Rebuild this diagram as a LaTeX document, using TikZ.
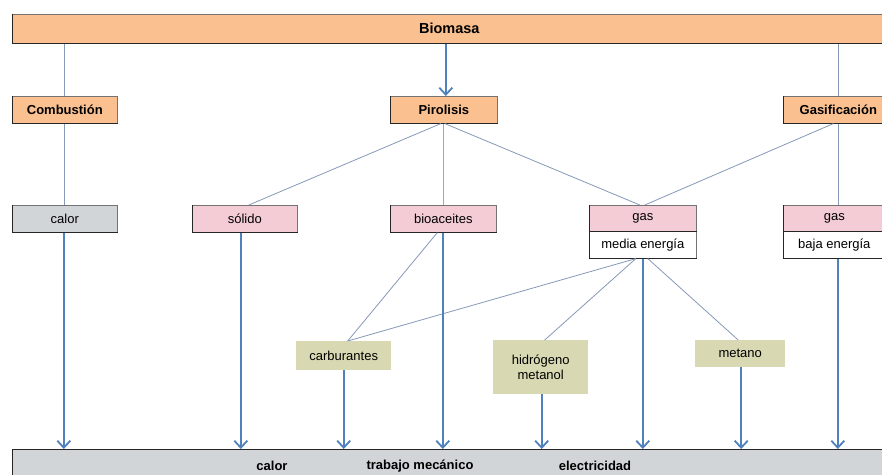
\documentclass[tikz,border=0pt]{standalone}
\usepackage{fontspec}
\setmainfont{Liberation Sans}
\usetikzlibrary{arrows.meta,calc}
\definecolor{orangefill}{RGB}{250,192,144}
\definecolor{pinkfill}{RGB}{243,204,214}
\definecolor{grayfill}{RGB}{210,213,216}
\definecolor{greenfill}{RGB}{216,216,178}
\definecolor{arrowblue}{RGB}{79,129,189}
\definecolor{connline}{RGB}{135,152,185}
\begin{document}
\begin{tikzpicture}[x=1pt,y=-1pt,
  font=\fontsize{13}{15}\selectfont,
  box/.style={draw=black!55, line width=0.6pt, inner sep=0pt, anchor=north west},
  edge/.style={draw=black!85, line width=1pt},
  gbox/.style={fill=greenfill, inner sep=0pt, anchor=north west, align=center},
  conn/.style={draw=connline, line width=0.8pt},
  grayconn/.style={draw=black!35, line width=0.8pt},
  arr/.style={draw=arrowblue, line width=1.8pt, -{Straight Barb[length=7pt,width=13pt]}},
  bold/.style={font=\fontsize{13}{15}\selectfont\bfseries}]
\useasboundingbox (0,0) rectangle (882,474);
\fill[white] (0,0) rectangle (882,474);

% top bar and processes
\node[box,fill=orangefill,minimum width=874pt,minimum height=29pt,font=\fontsize{14.5}{16}\selectfont\bfseries] (bio) at (12,14) {Biomasa};
\node[box,fill=orangefill,minimum width=105pt,minimum height=27pt,bold] (comb) at (12,96) {Combustión};
\node[box,fill=orangefill,minimum width=107pt,minimum height=27pt,bold] (pir) at (390,96) {Pirolisis};
\node[box,fill=orangefill,minimum width=110pt,minimum height=27pt,bold] (gasif) at (783,96) {Gasificación};

% products
\node[box,fill=grayfill,minimum width=105pt,minimum height=27pt] (calor) at (12,205) {calor};
\node[box,fill=pinkfill,minimum width=105pt,minimum height=27pt] (sol) at (192,205) {sólido};
\node[box,fill=pinkfill,minimum width=106pt,minimum height=27pt] (bioac) at (390,205) {bioaceites};
\node[box,fill=pinkfill,minimum width=107pt,minimum height=26pt] (gasm) at (589,205) {gas};
\node[box,fill=white,minimum width=107pt,minimum height=27pt] (gasmb) at (589,231) {media energía};
\node[box,fill=pinkfill,minimum width=102pt,minimum height=26pt] (gasb) at (783,205) {gas};
\node[box,fill=white,minimum width=102pt,minimum height=27pt] (gasbb) at (783,231) {baja energía};

% darker left and bottom edges of the boxes
\foreach \n in {bio,comb,pir,gasif,calor,sol,bioac,gasm,gasmb,gasb,gasbb}
  \draw[edge] (\n.north west) -- (\n.south west) -- (\n.south east);

% secondary products
\node[gbox,minimum width=95pt,minimum height=29pt] (carb) at (296,341) {carburantes};
\node[gbox,minimum width=95pt,minimum height=54pt] (hidro) at (493,340) {hidrógeno\\metanol};
\node[gbox,minimum width=90pt,minimum height=27pt] (meta) at (695,340) {metano};

% bottom bar
\node[box,fill=grayfill,minimum width=880pt,minimum height=35pt] (bottom) at (12,449) {};
\draw[edge] (bottom.south west) -- (bottom.north west) -- (bottom.north east);
\node[bold] (t1) at (272,466) {calor};
\node[bold] (t2) at (420,466) {trabajo mecánico};
\node[bold] (t3) at (595,466) {electricidad};

% connectors from Biomasa
\draw[conn] (bio.south -| comb.north) -- (comb.north);
\draw[arr] ([xshift=2pt]bio.south -| pir.north) -- ([xshift=2pt]pir.north);
\draw[conn] (bio.south -| gasif.north) -- (gasif.north);

% process to products
\draw[conn] (comb.south) -- (calor.north);
\draw[conn] ([xshift=-3pt]pir.south) -- ([xshift=4pt]sol.north);
\draw[grayconn] (pir.south) -- (pir.south |- bioac.north);
\draw[conn] ([xshift=1pt]pir.south) -- ([xshift=-3pt]gasm.north);
\draw[conn] ([xshift=-5pt]gasif.south) -- ([xshift=2pt]gasm.north);
\draw[conn] (gasif.south) -- (gasif.south |- gasb.north);

% to secondary products
\draw[conn] ([xshift=-6pt]bioac.south) -- ([xshift=4pt]carb.north);
\draw[conn] ([xshift=-7pt]gasmb.south) -- ([xshift=4pt]carb.north);
\draw[conn] ([xshift=-7pt]gasmb.south) -- ([xshift=4pt]hidro.north);
\draw[conn] ([xshift=5pt]gasmb.south) -- ([xshift=-2pt]meta.north);

% arrows to bottom bar
\draw[arr] ([xshift=-1pt]calor.south) -- ([xshift=-1pt]calor.south |- bottom.north);
\draw[arr] ([xshift=-4pt]sol.south) -- ([xshift=-4pt]sol.south |- bottom.north);
\draw[arr] (carb.south) -- (carb.south |- bottom.north);
\draw[arr] ([xshift=-0.5pt]bioac.south) -- ([xshift=-0.5pt]bioac.south |- bottom.north);
\draw[arr] ([xshift=1pt]hidro.south) -- ([xshift=1pt]hidro.south |- bottom.north);
\draw[arr] (gasmb.south) -- (gasmb.south |- bottom.north);
\draw[arr] ([xshift=1pt]meta.south) -- ([xshift=1pt]meta.south |- bottom.north);
\draw[arr] ([xshift=3.5pt]gasbb.south) -- ([xshift=3.5pt]gasbb.south |- bottom.north);
\end{tikzpicture}
\end{document}
